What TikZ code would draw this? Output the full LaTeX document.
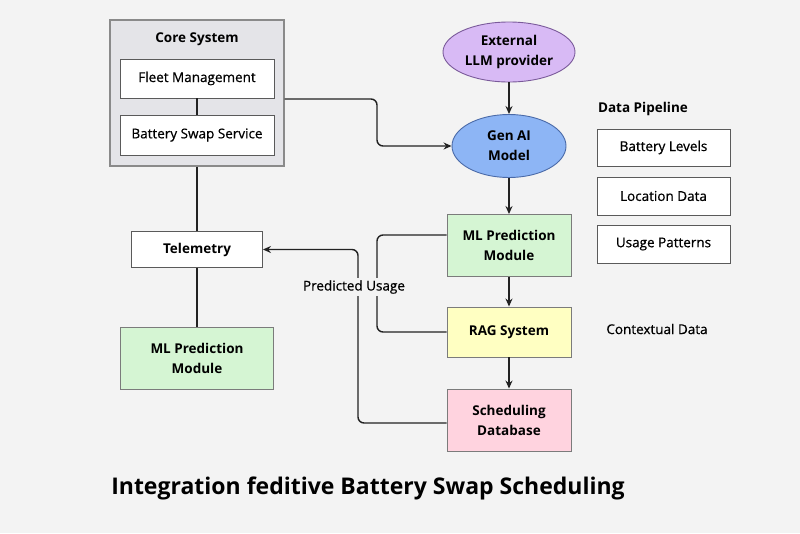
\documentclass[tikz,border=0pt]{standalone}
\usepackage{fontspec}
\setmainfont{Open Sans}
\newfontfamily\medfont[FakeBold=0.6]{Open Sans}
\usetikzlibrary{arrows.meta,shapes.geometric,positioning}
\definecolor{bg}{HTML}{F3F3F3}
\definecolor{corefill}{HTML}{E4E4E8}
\definecolor{coredraw}{HTML}{8A8A8A}
\definecolor{boxdraw}{HTML}{5A5A5A}
\definecolor{mlfill}{HTML}{D5F5D3}
\definecolor{ragfill}{HTML}{FFFFC2}
\definecolor{schedfill}{HTML}{FFD3DF}
\definecolor{llmfill}{HTML}{D8BAF5}
\definecolor{llmdraw}{HTML}{7A5A9A}
\definecolor{genfill}{HTML}{8DB5F5}
\definecolor{gendraw}{HTML}{4A6AA8}
\definecolor{linec}{HTML}{222222}
\tikzset{
  box/.style={draw=boxdraw, line width=0.9pt, fill=white, minimum width=#1, inner sep=0pt, align=center, font=\fontsize{13.5}{15}\medfont},
  colbox/.style={draw=boxdraw!80, line width=0.9pt, minimum width=124pt, inner sep=0pt, align=center, font=\fontsize{13.5}{20}\selectfont\bfseries},
  ell/.style={ellipse, line width=0.9pt, inner sep=0pt, align=center, font=\fontsize{13.5}{20}\selectfont\bfseries},
  conn/.style={draw=linec, line width=1.4pt, rounded corners=6pt},
  arr/.style={conn, -{Stealth[length=8pt,width=7pt]}},
  lbl/.style={font=\fontsize{13.5}{15}\medfont}
}
\begin{document}
\begin{tikzpicture}[x=1pt,y=-1pt]
\useasboundingbox[fill=bg] (0,0) rectangle (800,533);
% Core system
\node[draw=coredraw, fill=corefill, line width=1.3pt, minimum width=174pt, minimum height=146pt, inner sep=0pt] (core) at (197,93) {};
\node[font=\fontsize{13.5}{15}\selectfont\bfseries] (coret) at (197,39) {Core System};
\node[box=154pt, minimum height=39pt] (fleet) at (197,78.5) {Fleet Management};
\node[box=154pt, minimum height=40pt] (bss) at (197,135) {Battery Swap Service};
\draw[conn] (fleet.south) -- (bss.north);
% Left column
\node[box=131pt, minimum height=36pt, font=\fontsize{13.5}{15}\selectfont\bfseries] (tele) at (197,249.5) {Telemetry};
\node[colbox, fill=mlfill, minimum width=153pt, minimum height=62pt] (ml2) at (197,358) {ML Prediction\\Module};
\draw[conn] (core.south) -- (tele.north);
\draw[conn] (tele.south) -- (ml2.north);
% Ellipses
\node[ell, draw=llmdraw, fill=llmfill, minimum width=132pt, minimum height=60pt] (llm) at (509,52) {External\\LLM provider};
\node[ell, draw=gendraw, fill=genfill, minimum width=114pt, minimum height=63pt] (gen) at (509,146) {Gen AI\\Model};
% Center column
\node[colbox, fill=mlfill, minimum height=62pt] (ml) at (509,245.5) {ML Prediction\\Module};
\node[colbox, fill=ragfill, minimum height=50pt] (rag) at (509,332) {RAG System};
\node[colbox, fill=schedfill, minimum height=62pt] (sched) at (509,420) {Scheduling\\Database};
\draw[arr] (llm.south) -- (gen.north);
\draw[arr] (gen.south) -- (ml.north);
\draw[arr] (ml.south) -- (rag.north);
\draw[arr] (rag.south) -- (sched.north);
% Core -> Gen AI
\coordinate (c1) at ([yshift=-6pt]core.east);
\draw[arr] (c1) -- (c1 -| 377,0) |- (gen.west);
% ML -> RAG loop
\coordinate (m1) at ([yshift=10.5pt]ml.west);
\draw[conn] (m1) -- (m1 -| 377,0) |- (rag.west);
% Sched -> Telemetry
\coordinate (s1) at ([yshift=-3pt]sched.west);
\draw[arr] (s1) -- (s1 -| 358,0) |- (tele.east);
\node[lbl, fill=bg, inner sep=2pt] (pu) at (354,287) {Predicted Usage};
% Data pipeline
\node[font=\fontsize{13.5}{15}\selectfont\bfseries] (dp) at (643,109) {Data Pipeline};
\node[box=133pt, minimum height=37pt] (bl) at (663.5,147.5) {Battery Levels};
\node[box=133pt, minimum height=38pt] (ld) at (663.5,196) {Location Data};
\node[box=133pt, minimum height=38pt] (up) at (663.5,244) {Usage Patterns};
\node[lbl] (ctx) at (657,329) {Contextual Data};
% Title
\node[font=\fontsize{23}{27}\selectfont\bfseries] (title) at (368,488) {Integration feditive Battery Swap Scheduling};
\end{tikzpicture}
\end{document}
